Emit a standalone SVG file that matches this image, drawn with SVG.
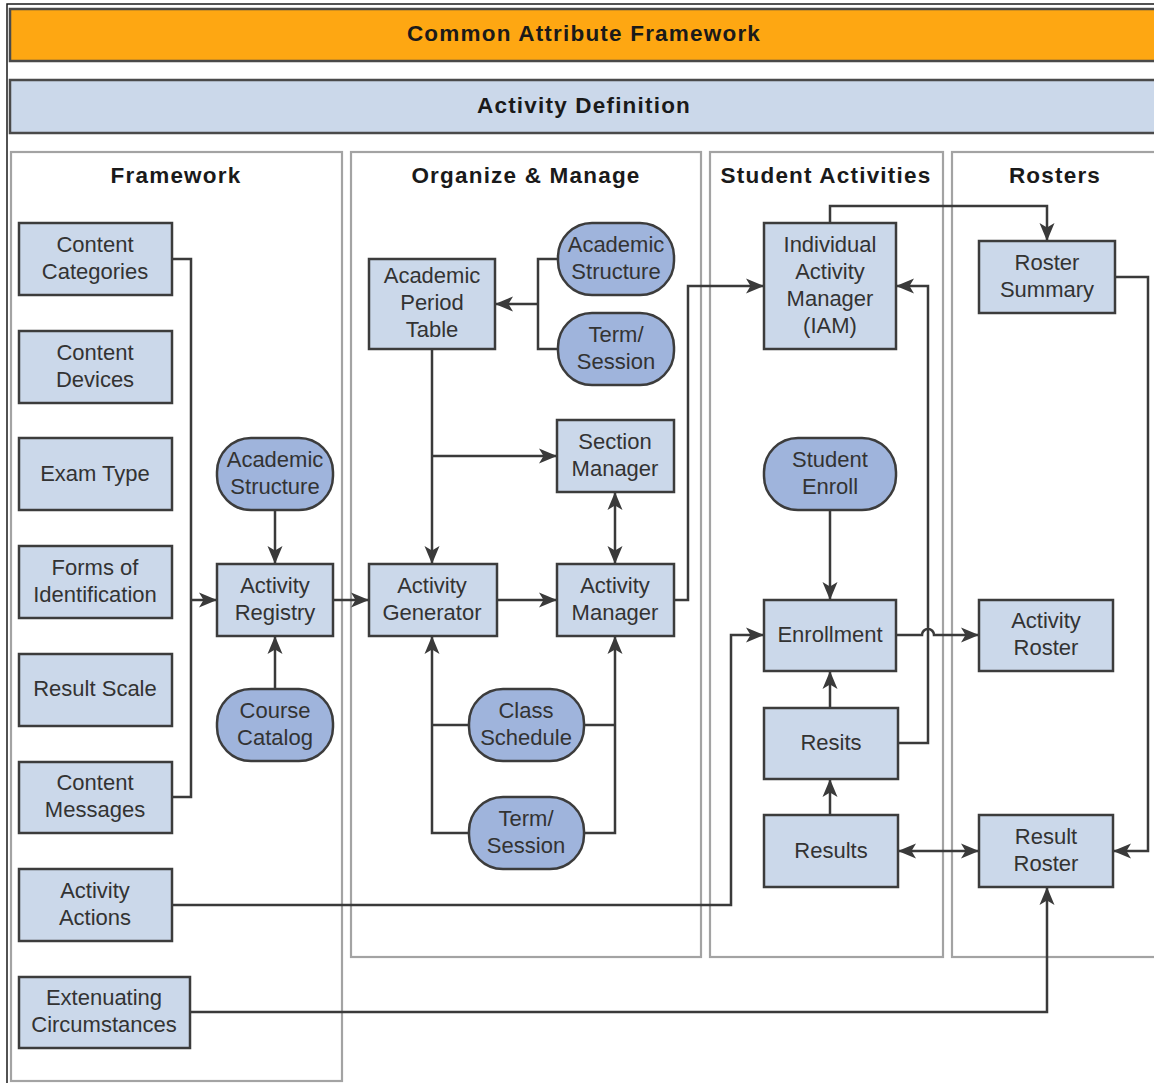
<svg xmlns="http://www.w3.org/2000/svg" width="1154" height="1083" viewBox="0 0 1154 1083">
<defs>
<marker id="ah" markerUnits="userSpaceOnUse" markerWidth="18" markerHeight="18" viewBox="0 0 18 18" refX="17" refY="9" orient="auto-start-reverse">
<path d="M0,1.5 L18,9 L0,16.5 L4.5,9 Z" fill="#3a3a3a"/>
</marker>
<style>
.frame{fill:none;stroke:#1a1a1a;stroke-width:1.5}
.bar{stroke:#4a4a4a;stroke-width:2.5}
.panel{fill:none;stroke:#a3a3a3;stroke-width:2.2}
.box{fill:#cbd8ea;stroke:#3c3c3c;stroke-width:2.5}
.pill{fill:#9fb4dc;stroke:#3c3c3c;stroke-width:2.5}
.t{font-family:"Liberation Sans",Arial,sans-serif;font-size:22px;fill:#333333;text-anchor:middle}
.h{font-family:"Liberation Sans",Arial,sans-serif;font-size:22.5px;font-weight:bold;fill:#1a1a1a;text-anchor:middle;letter-spacing:1.2px}
.c{fill:none;stroke:#3a3a3a;stroke-width:2.5}
.ca{fill:none;stroke:#3a3a3a;stroke-width:2.5;marker-end:url(#ah)}
.cb{fill:none;stroke:#3a3a3a;stroke-width:2.5;marker-end:url(#ah);marker-start:url(#ah)}
</style>
</defs>
<rect width="1154" height="1083" fill="#ffffff"/>
<path class="frame" d="M7,1083 V4 H1154"/>
<g id="header">
<rect class="bar" x="10" y="9" width="1150" height="52" fill="#fea712"/>
<text class="h" x="584" y="41">Common Attribute Framework</text>
</g>
<g id="activity-definition">
<rect class="bar" x="10" y="80" width="1150" height="53" fill="#cbd8ea"/>
<text class="h" x="584" y="113">Activity Definition</text>
</g>
<g id="panels">
<rect class="panel" x="11" y="152" width="331" height="929"/>
<rect class="panel" x="351" y="152" width="350" height="805"/>
<rect class="panel" x="710" y="152" width="233" height="805"/>
<rect class="panel" x="952" y="152" width="210" height="805"/>
<text class="h" x="176" y="183">Framework</text>
<text class="h" x="526" y="183">Organize &amp; Manage</text>
<text class="h" x="826" y="183">Student Activities</text>
<text class="h" x="1055" y="183">Rosters</text>
</g>
<g id="connectors">
<path class="c" d="M172,259 H191 V797 H172"/>
<path class="ca" d="M191,600 H216"/>
<path class="ca" d="M275,510 V563"/>
<path class="ca" d="M275,689 V637"/>
<path class="ca" d="M333,600 H368"/>
<path class="c" d="M558,259 H538 V349 H558"/>
<path class="ca" d="M538,304 H496"/>
<path class="ca" d="M432,349 V563"/>
<path class="ca" d="M432,456 H556"/>
<path class="cb" d="M615,493 V563"/>
<path class="ca" d="M497,600 H556"/>
<path class="ca" d="M674,600 H688 V286 H763"/>
<path class="c" d="M469,725 H432 M584,725 H615"/>
<path class="ca" d="M469,833 H432 V637"/>
<path class="ca" d="M584,833 H615 V637"/>
<path class="ca" d="M830,223 V206 H1047 V240"/>
<path class="ca" d="M898,743 H928 V286 H897"/>
<path class="ca" d="M830,510 V599"/>
<path class="ca" d="M172,905 H731 V635 H763"/>
<path class="ca" d="M896,635 H922 A6,6 0 0 1 934,635 H978"/>
<path class="ca" d="M830,708 V672"/>
<path class="ca" d="M830,815 V780"/>
<path class="cb" d="M899,851 H978"/>
<path class="ca" d="M1115,277 H1148 V851 H1114"/>
<path class="ca" d="M190,1012 H1047 V888"/>
</g>
<g id="content-categories"><rect class="box" x="19" y="223" width="153" height="72"/><text class="t" x="95" y="252">Content</text><text class="t" x="95" y="279">Categories</text></g>
<g id="content-devices"><rect class="box" x="19" y="331" width="153" height="72"/><text class="t" x="95" y="360">Content</text><text class="t" x="95" y="387">Devices</text></g>
<g id="exam-type"><rect class="box" x="19" y="438" width="153" height="72"/><text class="t" x="95" y="481">Exam Type</text></g>
<g id="forms-of-identification"><rect class="box" x="19" y="546" width="153" height="72"/><text class="t" x="95" y="575">Forms of</text><text class="t" x="95" y="602">Identification</text></g>
<g id="result-scale"><rect class="box" x="19" y="654" width="153" height="72"/><text class="t" x="95" y="696">Result Scale</text></g>
<g id="content-messages"><rect class="box" x="19" y="762" width="153" height="71"/><text class="t" x="95" y="790">Content</text><text class="t" x="95" y="817">Messages</text></g>
<g id="activity-actions"><rect class="box" x="19" y="869" width="153" height="72"/><text class="t" x="95" y="898">Activity</text><text class="t" x="95" y="925">Actions</text></g>
<g id="extenuating-circumstances"><rect class="box" x="19" y="977" width="171" height="71"/><text class="t" x="104" y="1005">Extenuating</text><text class="t" x="104" y="1032">Circumstances</text></g>
<g id="academic-structure-1"><rect class="pill" x="217" y="438" width="116" height="72" rx="34"/><text class="t" x="275" y="467">Academic</text><text class="t" x="275" y="494">Structure</text></g>
<g id="activity-registry"><rect class="box" x="217" y="564" width="116" height="72"/><text class="t" x="275" y="593">Activity</text><text class="t" x="275" y="620">Registry</text></g>
<g id="course-catalog"><rect class="pill" x="217" y="689" width="116" height="72" rx="34"/><text class="t" x="275" y="718">Course</text><text class="t" x="275" y="745">Catalog</text></g>
<g id="academic-period-table"><rect class="box" x="369" y="259" width="126" height="90"/><text class="t" x="432" y="283">Academic</text><text class="t" x="432" y="310">Period</text><text class="t" x="432" y="337">Table</text></g>
<g id="academic-structure-2"><rect class="pill" x="558" y="223" width="116" height="72" rx="34"/><text class="t" x="616" y="252">Academic</text><text class="t" x="616" y="279">Structure</text></g>
<g id="term-session-1"><rect class="pill" x="558" y="313" width="116" height="72" rx="34"/><text class="t" x="616" y="342">Term/</text><text class="t" x="616" y="369">Session</text></g>
<g id="section-manager"><rect class="box" x="557" y="420" width="117" height="72"/><text class="t" x="615" y="449">Section</text><text class="t" x="615" y="476">Manager</text></g>
<g id="activity-generator"><rect class="box" x="369" y="564" width="128" height="72"/><text class="t" x="432" y="593">Activity</text><text class="t" x="432" y="620">Generator</text></g>
<g id="activity-manager"><rect class="box" x="557" y="564" width="117" height="72"/><text class="t" x="615" y="593">Activity</text><text class="t" x="615" y="620">Manager</text></g>
<g id="class-schedule"><rect class="pill" x="469" y="689" width="115" height="72" rx="34"/><text class="t" x="526" y="718">Class</text><text class="t" x="526" y="745">Schedule</text></g>
<g id="term-session-2"><rect class="pill" x="469" y="797" width="115" height="72" rx="34"/><text class="t" x="526" y="826">Term/</text><text class="t" x="526" y="853">Session</text></g>
<g id="iam"><rect class="box" x="764" y="223" width="132" height="126"/><text class="t" x="830" y="252">Individual</text><text class="t" x="830" y="279">Activity</text><text class="t" x="830" y="306">Manager</text><text class="t" x="830" y="333">(IAM)</text></g>
<g id="student-enroll"><rect class="pill" x="764" y="438" width="132" height="72" rx="34"/><text class="t" x="830" y="467">Student</text><text class="t" x="830" y="494">Enroll</text></g>
<g id="enrollment"><rect class="box" x="764" y="600" width="132" height="71"/><text class="t" x="830" y="642">Enrollment</text></g>
<g id="resits"><rect class="box" x="764" y="708" width="134" height="71"/><text class="t" x="831" y="750">Resits</text></g>
<g id="results"><rect class="box" x="764" y="815" width="134" height="72"/><text class="t" x="831" y="858">Results</text></g>
<g id="roster-summary"><rect class="box" x="979" y="241" width="136" height="72"/><text class="t" x="1047" y="270">Roster</text><text class="t" x="1047" y="297">Summary</text></g>
<g id="activity-roster"><rect class="box" x="979" y="600" width="134" height="71"/><text class="t" x="1046" y="628">Activity</text><text class="t" x="1046" y="655">Roster</text></g>
<g id="result-roster"><rect class="box" x="979" y="815" width="134" height="72"/><text class="t" x="1046" y="844">Result</text><text class="t" x="1046" y="871">Roster</text></g>
</svg>
